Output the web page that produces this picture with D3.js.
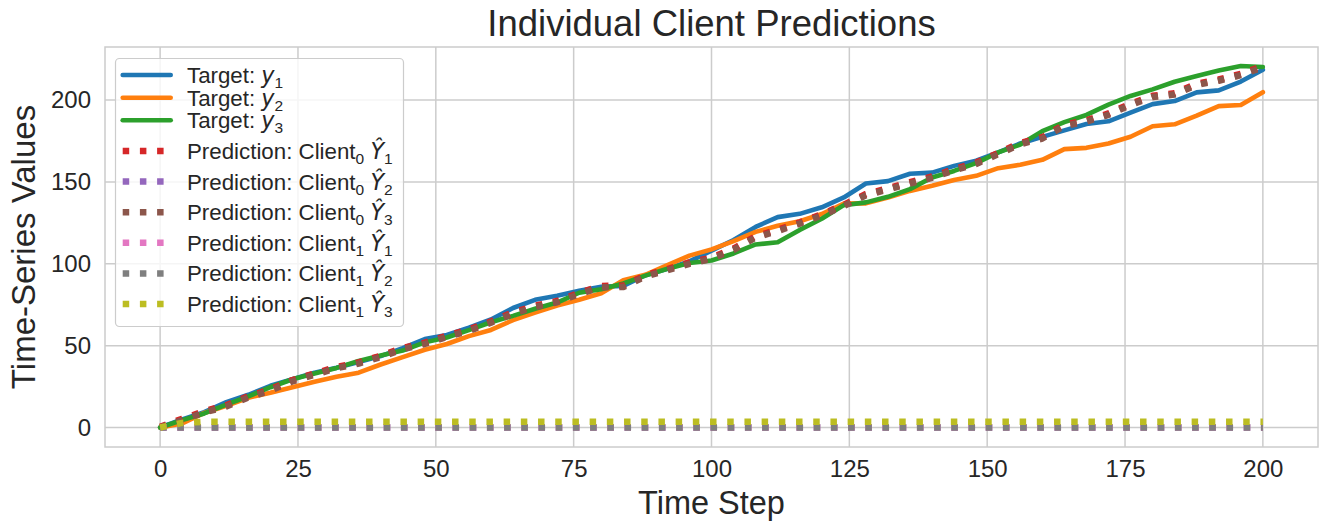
<!DOCTYPE html>
<html><head><meta charset="utf-8">
<script src="https://cdn.jsdelivr.net/npm/d3@7"></script>
<style>
body{margin:0;background:#fff;}
svg{display:block;}
text{font-family:"Liberation Sans", Arial, sans-serif; fill:#262626;}
</style>
</head><body>
<svg id="chart" width="1329" height="532"></svg>
<script>
const timeSteps = [0,4,8,12,16,20,24,28,32,36,40,44,48,52,56,60,64,68,72,76,80,84,88,92,96,100,104,108,112,116,120,124,128,132,136,140,144,148,152,156,160,164,168,172,176,180,184,188,192,196,200];
const targetY1 = [0,5,9.4,15.5,20,25.5,29.5,33.5,36.5,40,43.6,48.5,54,56.5,61,66,73,78,80.5,83.5,86,86.5,93,97,101.5,108,114.5,122.5,128.5,130.5,134.5,140.5,149,150.5,155,155.7,159.8,163,168,173.5,177.5,181.5,185.4,187,192.3,197.5,199.4,204.7,205.9,211.3,218.5];
const targetY2 = [0,2.5,8.9,13.3,18.2,21.2,24.6,28,31,33.5,38.5,43,47.5,51,55.8,59.6,65.6,70.2,74.5,78,82,89.9,93.3,99.2,105,108.8,113.8,119.5,123.2,126,130.4,136.8,136.9,140.4,144.5,147.6,151.2,153.7,158.4,160.5,163.5,170,170.8,173.5,177.6,184,185.2,190.5,196.3,197,204.8];
const targetY3 = [0,4.5,8.6,14,19,24.6,29.5,33,36.4,40.6,44,47,52,55,59.5,64.3,68.2,72.5,76.3,82.3,84.5,88,92.8,97,100.5,102,106.3,111.8,113.1,120.7,127.5,135.8,137.5,140.9,145.6,152.7,156.7,161.5,168,172.8,181,186.5,190.9,197.2,202.5,206.5,211.2,214.7,218,220.8,220.2];
const predC0Y1 = [0.5,5.3,10,13.6,19.1,23.3,29,33,37,39.8,43.8,48.6,51.8,56.1,59.8,64.8,70.3,74.4,77.3,82.3,86.5,86.6,93,96.8,100.8,103.8,109.3,116.8,120.8,125.3,130.3,136.1,142.6,146.1,149.8,153.3,157.8,161.8,167.7,173.8,177.3,185,187.6,191.8,197.8,202.6,204.2,210,212.6,216,220.8];
const predC0Y2 = [0,0,0,0,0,0,0,0,0,0,0,0,0,0,0,0,0,0,0,0,0,0,0,0,0,0,0,0,0,0,0,0,0,0,0,0,0,0,0,0,0,0,0,0,0,0,0,0,0,0,0];
const predC0Y3 = [0,4.5,9.2,12.8,18.3,22.5,28.2,32.2,36.2,39,43,47.8,51,55.3,59,64,69.5,73.6,76.5,81.5,85.7,85.8,92.2,96,100,103,108.5,116,120,124.5,129.5,135.3,141.8,145.3,149,152.5,157,161,166.9,173,176.5,184.2,186.8,191,197,201.8,203.4,209.2,211.8,215.2,220];
const predC1Y1 = [0,0,0,0,0,0,0,0,0,0,0,0,0,0,0,0,0,0,0,0,0,0,0,0,0,0,0,0,0,0,0,0,0,0,0,0,0,0,0,0,0,0,0,0,0,0,0,0,0,0,0];
const predC1Y2 = [0,0,0,0,0,0,0,0,0,0,0,0,0,0,0,0,0,0,0,0,0,0,0,0,0,0,0,0,0,0,0,0,0,0,0,0,0,0,0,0,0,0,0,0,0,0,0,0,0,0,0];
const predC1Y3 = [0,2.8,3.5,3.5,3.5,3.5,3.5,3.5,3.5,3.5,3.5,3.5,3.5,3.5,3.5,3.5,3.5,3.5,3.5,3.5,3.5,3.5,3.5,3.5,3.5,3.5,3.5,3.5,3.5,3.5,3.5,3.5,3.5,3.5,3.5,3.5,3.5,3.5,3.5,3.5,3.5,3.5,3.5,3.5,3.5,3.5,3.5,3.5,3.5,3.5,3.5];

const xTicks = [0,25,50,75,100,125,150,175,200];
const yTicks = [0,50,100,150,200];

const legendPrefix = ["Target: ","Target: ","Target: ","Prediction: Client","Prediction: Client","Prediction: Client","Prediction: Client","Prediction: Client","Prediction: Client"];
const legendClient = ["","","","0","0","0","1","1","1"];
const legendSymbol = ["y","y","y","Ŷ","Ŷ","Ŷ","Ŷ","Ŷ","Ŷ"];
const legendIndex = ["1","2","3","1","2","3","1","2","3"];
const seriesValues = [targetY1,targetY2,targetY3,predC0Y1,predC0Y2,predC0Y3,predC1Y1,predC1Y2,predC1Y3];
const seriesColors = ["#1f77b4","#ff7f0e","#2ca02c","#d62728","#9467bd","#8c564b","#e377c2","#7f7f7f","#bcbd22"];
const seriesDotted = [false,false,false,true,true,true,true,true,true];

const titleText = "Individual Client Predictions";
const xLabelText = "Time Step";
const yLabelText = "Time-Series Values";

const svg = d3.select("#chart");
const L = 105, R = 1318, T = 47, B = 447;
const x = d3.scaleLinear().domain([-10, 210]).range([L, R]);
const y = d3.scaleLinear().domain([-11.9, 232.4]).range([B, T]);

svg.append("rect").attr("width",1329).attr("height",532).attr("fill","#fff");

// grid
const grid = svg.append("g");
grid.selectAll(".gx").data(xTicks).enter().append("line")
  .attr("x1", d=>x(d)).attr("x2", d=>x(d)).attr("y1", T).attr("y2", B)
  .attr("stroke","#cccccc").attr("stroke-width",1.5);
grid.selectAll(".gy").data(yTicks).enter().append("line")
  .attr("y1", d=>y(d)).attr("y2", d=>y(d)).attr("x1", L).attr("x2", R)
  .attr("stroke","#cccccc").attr("stroke-width",1.5);

// axes
const xAxis = svg.append("g").attr("transform",`translate(0,${B})`)
  .call(d3.axisBottom(x).tickValues(xTicks).tickSize(0).tickPadding(13).tickFormat(d3.format("d")));
xAxis.select(".domain").remove();
xAxis.selectAll("text").attr("font-size",24).attr("font-family","Liberation Sans, Arial, sans-serif").attr("fill","#262626");
const yAxis = svg.append("g").attr("transform",`translate(${L},0)`)
  .call(d3.axisLeft(y).tickValues(yTicks).tickSize(0).tickPadding(14).tickFormat(d3.format("d")));
yAxis.select(".domain").remove();
yAxis.selectAll("text").attr("font-size",24).attr("font-family","Liberation Sans, Arial, sans-serif").attr("fill","#262626");

// clip
svg.append("clipPath").attr("id","clip").append("rect").attr("x",L).attr("y",T).attr("width",R-L).attr("height",B-T);

const line = d3.line().x((d,i)=>x(timeSteps[i])).y(d=>y(d));
const plot = svg.append("g").attr("clip-path","url(#clip)");
seriesValues.forEach((vals, k) => {
  const p = plot.append("path").datum(vals).attr("d", line)
    .attr("fill","none").attr("stroke", seriesColors[k]);
  if (seriesDotted[k]) {
    p.attr("stroke-width",6.5).attr("stroke-dasharray","6.5 10.7").attr("stroke-linecap","butt").attr("stroke-linejoin","round");
  } else {
    p.attr("stroke-width",4.6).attr("stroke-linecap","round").attr("stroke-linejoin","round");
  }
});

// spines
svg.append("rect").attr("x",L).attr("y",T).attr("width",R-L).attr("height",B-T)
  .attr("fill","none").attr("stroke","#cccccc").attr("stroke-width",1.5);

// title & labels
svg.append("text").attr("x",(L+R)/2).attr("y",36).attr("text-anchor","middle").attr("font-size",36.5).text(titleText);
svg.append("text").attr("x",(L+R)/2).attr("y",514).attr("text-anchor","middle").attr("font-size",32.5).text(xLabelText);
svg.append("text").attr("transform",`translate(35,${(T+B)/2}) rotate(-90)`).attr("text-anchor","middle").attr("font-size",33).text(yLabelText);

// legend
const leg = svg.append("g");
leg.append("rect").attr("x",115.5).attr("y",58.5).attr("width",288).attr("height",268).attr("rx",4)
  .attr("fill","rgba(255,255,255,0.8)").attr("stroke","#cccccc").attr("stroke-width",1.2);
const rowY = [75, 97.7, 120.3, 151, 181.6, 212.2, 242.8, 273.4, 304];
seriesValues.forEach((vals,k) => {
  const cy = rowY[k];
  const h = leg.append("line").attr("x1",122.7).attr("x2",170.7).attr("y1",cy).attr("y2",cy).attr("stroke",seriesColors[k]);
  if (seriesDotted[k]) h.attr("stroke-width",6.5).attr("stroke-dasharray","6.5 10.7");
  else h.attr("stroke-width",4.6).attr("stroke-linecap","round");
  const t = leg.append("text").attr("x",187).attr("y",cy+8).attr("font-size",22.3);
  t.append("tspan").text(legendPrefix[k]);
  if (legendClient[k] !== "") {
    t.append("tspan").attr("font-size",15.5).attr("dy",5).text(legendClient[k]);
    t.append("tspan").attr("dy",-5).text(" ");
  }
  t.append("tspan").attr("font-family","DejaVu Sans").attr("font-style","italic").text(legendSymbol[k]);
  t.append("tspan").attr("font-size",15.5).attr("dy",5).text(legendIndex[k]);
});
</script>
</body></html>
